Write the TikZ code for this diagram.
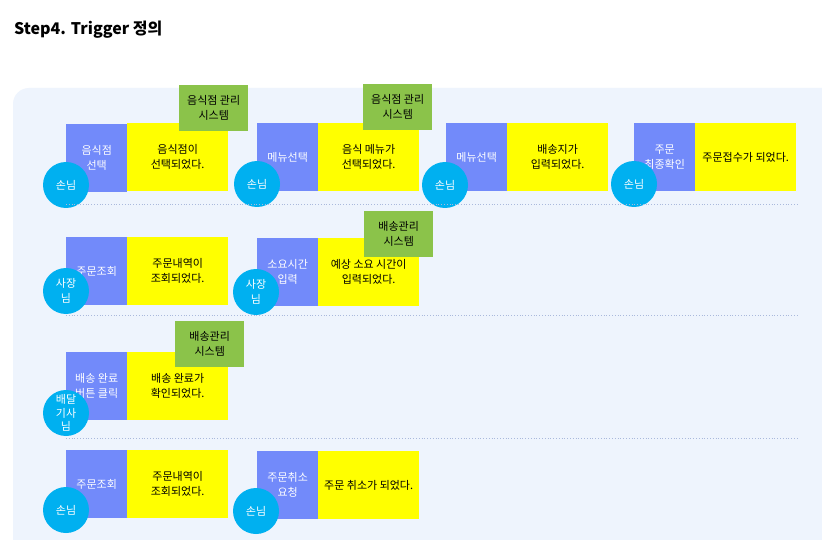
\documentclass[tikz,border=0pt]{standalone}
\usepackage{fontspec}
\setmainfont{Noto Sans CJK KR}
\definecolor{panelbg}{RGB}{238,244,253}
\definecolor{cmdblue}{RGB}{114,138,250}
\definecolor{evtyellow}{RGB}{255,255,0}
\definecolor{sysgreen}{RGB}{139,195,74}
\definecolor{actcyan}{RGB}{0,176,240}
\definecolor{sepline}{RGB}{170,185,220}
\tikzset{
  boxfont/.style={font=\fontsize{11}{15}\selectfont},
  cmdbox/.style={boxfont, fill=cmdblue, text=white, minimum width=61pt, minimum height=68pt, anchor=north west, inner sep=0pt, align=center},
  evtbox/.style={boxfont, fill=evtyellow, text=black, minimum width=101pt, minimum height=68pt, anchor=north west, inner sep=0pt, align=center},
  sysbox/.style={boxfont, fill=sysgreen, text=black, minimum width=69pt, minimum height=46pt, anchor=north west, inner sep=0pt, align=center},
  actor/.style={boxfont, circle, fill=actcyan, text=white, minimum size=46pt, inner sep=0pt, align=center},
  sep/.style={draw=sepline, line width=0.8pt, dotted},
}
\begin{document}
\begin{tikzpicture}[x=1pt,y=-1pt]
\useasboundingbox (0,0) rectangle (822,540);
\fill[white] (0,0) rectangle (822,540);
\fill[panelbg, rounded corners=16pt] (13,88) rectangle (860,580);
\node[anchor=base west, inner sep=0pt, font=\fontsize{16}{18}\selectfont\bfseries] (title) at (14,35) {Step4. Trigger 정의};

% Row 1
\node[cmdbox] (c11) at (66,124) {음식점\\선택};
\node[evtbox] (e11) at (127,123) {음식점이\\선택되었다.};
\node[sysbox] (s11) at (179,85) {음식점 관리\\시스템};
\node[actor] (a11) at (66,185) {손님};

\node[cmdbox] (c12) at (257,123) {메뉴선택};
\node[evtbox] (e12) at (318,123) {음식 메뉴가\\선택되었다.};
\node[sysbox] (s12) at (363,84) {음식점 관리\\시스템};
\node[actor] (a12) at (257,184) {손님};

\node[cmdbox] (c13) at (446,123) {메뉴선택};
\node[evtbox] (e13) at (507,123) {배송지가\\입력되었다.};
\node[actor] (a13) at (445,185) {손님};

\node[cmdbox] (c14) at (634,123) {주문\\최종확인};
\node[evtbox] (e14) at (695,123) {주문접수가 되었다.};
\node[actor] (a14) at (634,184) {손님};

\draw[sep] (66,204) -- (797,204);

% Row 2
\node[cmdbox] (c21) at (66,237) {주문조회};
\node[evtbox] (e21) at (127,237) {주문내역이\\조회되었다.};
\node[actor] (a21) at (66,291) {사장\\님};

\node[cmdbox] (c22) at (257,238) {소요시간\\입력};
\node[evtbox] (e22) at (318,238) {예상 소요 시간이\\입력되었다.};
\node[sysbox] (s22) at (364,211) {배송관리\\시스템};
\node[actor] (a22) at (256,292) {사장\\님};

\draw[sep] (66,315) -- (797,315);

% Row 3
\node[cmdbox] (c31) at (66,352) {배송 완료\\버튼 클릭};
\node[evtbox] (e31) at (127,352) {배송 완료가\\확인되었다.};
\node[sysbox] (s31) at (175,321) {배송관리\\시스템};
\node[actor, font=\fontsize{11}{13.5}\selectfont] (a31) at (66,413) {배달\\기사\\님};

\draw[sep] (66,438) -- (797,438);

% Row 4
\node[cmdbox] (c41) at (66,450) {주문조회};
\node[evtbox] (e41) at (127,450) {주문내역이\\조회되었다.};
\node[actor] (a41) at (66,510) {손님};

\node[cmdbox] (c42) at (257,451) {주문취소\\요청};
\node[evtbox] (e42) at (318,451) {주문 취소가 되었다.};
\node[actor] (a42) at (256,511) {손님};
\end{tikzpicture}
\end{document}
